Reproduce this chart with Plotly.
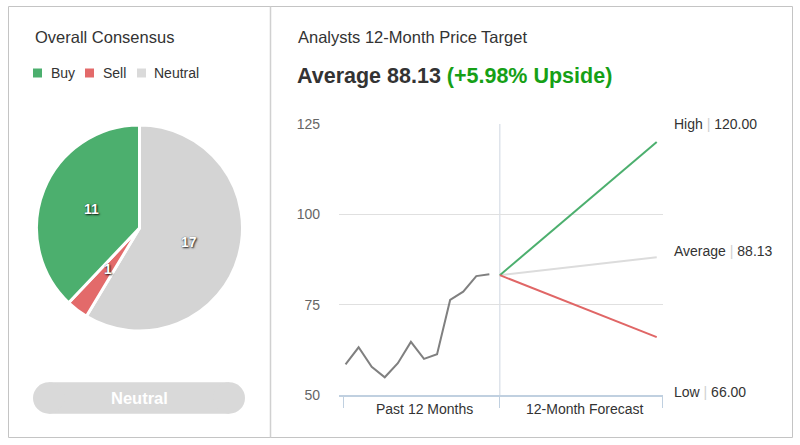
import math
import plotly.graph_objects as go

# ---------------- data ----------------
consensus_labels = ["Buy", "Sell", "Neutral"]
consensus_counts = [11, 1, 17]
consensus_colors = ["#4caf6e", "#e36a6a", "#d4d4d4"]
consensus_rating = "Neutral"

hist_months = [-11.8, -10.8, -9.8, -8.8, -7.8, -6.8, -5.8, -4.8, -3.8, -2.8, -1.8, -0.8]
hist_prices = [58.5, 63.2, 57.8, 54.9, 58.8, 64.7, 60.0, 61.3, 76.3, 78.6, 82.9, 83.4]

current_price = 83.16
forecast_months = [0, 12]
target_high = 120.00
target_avg = 88.13
target_low = 66.00

y_ticks = [50, 75, 100, 125]
x_categories = ["Past 12 Months", "12-Month Forecast"]

# ---------------- helpers ----------------
W, H = 800, 445
FONT = "Liberation Sans, Arial, Helvetica, sans-serif"
DARK = "#333333"


def px(x):
    return x / W


def py(y):
    return 1 - y / H


fig = go.Figure()

# ---------------- pie ----------------
# slices run clockwise from 12 o'clock: Neutral, Sell, Buy
pie_l, pie_r, pie_t, pie_b = 36, 243, 125, 331
fig.add_trace(go.Pie(
    labels=consensus_labels[::-1],
    values=consensus_counts[::-1],
    sort=False,
    direction="clockwise",
    rotation=0,
    marker=dict(colors=consensus_colors[::-1], line=dict(color="white", width=3)),
    textinfo="none",
    hoverinfo="label+value",
    showlegend=False,
    domain=dict(x=[px(pie_l), px(pie_r)], y=[py(pie_b), py(pie_t)]),
))

annotations = []
shapes = []

# pie data labels at half radius on each slice's mid angle (Buy starts at top, counterclockwise)
cx, cy = (pie_l + pie_r) / 2, (pie_t + pie_b) / 2
R = (pie_r - pie_l) / 2
total = sum(consensus_counts)
cum = 0
for lab, v in zip(consensus_labels, consensus_counts):
    mid = (cum + v / 2) / total * 2 * math.pi
    cum += v
    lx = cx - math.sin(mid) * R * 0.5
    ly = cy - math.cos(mid) * R * 0.5
    annotations.append(dict(
        x=px(lx), y=py(ly), xref="paper", yref="paper", showarrow=False,
        text=f"<b>{v}</b>", xanchor="center", yanchor="middle",
        font=dict(family=FONT, size=14, color="white",
                  shadow="1px 1px 2px rgba(0,0,0,0.85), 0px 0px 1px rgba(0,0,0,0.6)"),
    ))

# manual legend
leg_sq_x = [33, 85, 137]
leg_txt_x = [49, 101, 152]
for lab, col, sx, tx in zip(consensus_labels, consensus_colors, leg_sq_x, leg_txt_x):
    shapes.append(dict(type="rect", xref="paper", yref="paper",
                       x0=px(sx), x1=px(sx + 9), y0=py(77.5), y1=py(68.5),
                       fillcolor=col if col != "#d4d4d4" else "#dadada", line=dict(width=0)))
    annotations.append(dict(x=px(tx), y=py(73), xref="paper", yref="paper", showarrow=False,
                            text=lab, xanchor="left", yanchor="middle",
                            font=dict(family=FONT, size=14, color=DARK)))

# titles
annotations.append(dict(x=px(33), y=py(37), xref="paper", yref="paper", showarrow=False,
                        text="Overall Consensus", xanchor="left", yanchor="middle",
                        font=dict(family=FONT, size=16.5, color=DARK)))
annotations.append(dict(x=px(296), y=py(37), xref="paper", yref="paper", showarrow=False,
                        text="Analysts 12-Month Price Target", xanchor="left", yanchor="middle",
                        font=dict(family=FONT, size=16.5, color=DARK)))
upside = (target_avg / current_price - 1) * 100
annotations.append(dict(x=px(295), y=py(76), xref="paper", yref="paper", showarrow=False,
                        text=f"<b>Average {target_avg:.2f} <span style='color:#16a016'>(+{upside:.2f}% Upside)</span></b>",
                        xanchor="left", yanchor="middle",
                        font=dict(family=FONT, size=21.5, color=DARK)))

# neutral pill
pill_l, pill_r, pill_t, pill_b = 33, 245, 382.3, 413.7
rad = (pill_b - pill_t) / 2
pill_col = "#d9d9d9"
shapes.append(dict(type="rect", xref="paper", yref="paper",
                   x0=px(pill_l + rad), x1=px(pill_r - rad), y0=py(pill_b), y1=py(pill_t),
                   fillcolor=pill_col, line=dict(width=0)))
for ccx in (pill_l + rad, pill_r - rad):
    shapes.append(dict(type="circle", xref="paper", yref="paper",
                       x0=px(ccx - rad), x1=px(ccx + rad), y0=py(pill_b), y1=py(pill_t),
                       fillcolor=pill_col, line=dict(width=0)))
annotations.append(dict(x=px((pill_l + pill_r) / 2), y=py((pill_t + pill_b) / 2),
                        xref="paper", yref="paper", showarrow=False,
                        text=f"<b>{consensus_rating}</b>", xanchor="center", yanchor="middle",
                        font=dict(family=FONT, size=16.5, color="white")))

# ---------------- line chart ----------------
fig.add_trace(go.Scatter(x=hist_months, y=hist_prices, mode="lines",
                         line=dict(color="#808080", width=2), showlegend=False,
                         hoverinfo="y"))
for tgt, col in [(target_avg, "#dcdcdc"), (target_high, "#4caf6e"), (target_low, "#e06666")]:
    fig.add_trace(go.Scatter(x=forecast_months, y=[current_price, tgt], mode="lines",
                             line=dict(color=col, width=2), showlegend=False, hoverinfo="y"))

ax_l, ax_r, ax_t, ax_b = 339, 663, 124, 395
x_range = [-12.3, 12.48]
y_range = [50, 125]

fig.update_xaxes(domain=[px(ax_l), px(ax_r)], range=x_range, showgrid=False, zeroline=False,
                 showline=True, linecolor="#c0d0e0", linewidth=1.5, automargin=False,
                 ticks="outside", tickvals=[-11.95, 0, 12.47], ticklen=11, tickwidth=1,
                 tickcolor="#c0d0e0", showticklabels=False, fixedrange=True)
fig.update_yaxes(domain=[py(ax_b), py(ax_t)], range=y_range, tickvals=y_ticks,
                 showgrid=True, gridcolor="#e0e0e0", gridwidth=1, zeroline=False,
                 showline=False, ticks="", ticklabelstandoff=18, automargin=False,
                 tickfont=dict(family=FONT, size=14, color="#666666"), fixedrange=True)

# "now" divider
shapes.append(dict(type="line", xref="x", yref="y domain", x0=0, x1=0, y0=0, y1=1,
                   line=dict(color="#d6dde6", width=1.2), layer="below"))

# category labels
cat_centers = [424, 585]
for lab, cxx in zip(x_categories, cat_centers):
    annotations.append(dict(x=px(cxx), y=py(409), xref="paper", yref="paper", showarrow=False,
                            text=lab, xanchor="center", yanchor="middle",
                            font=dict(family=FONT, size=14, color=DARK)))

# target labels on the right
sep = "<span style='color:#d0d0d0'>|</span>"
for name, val, yv, ys in [("High", target_high, y_range[1], 0),
                          ("Average", target_avg, target_avg, 6),
                          ("Low", target_low, y_range[0], 3)]:
    annotations.append(dict(x=px(672), y=yv, xref="paper", yref="y", yshift=ys, showarrow=False,
                            text=f"{name} {sep} {val:.2f}", xanchor="left", yanchor="middle",
                            font=dict(family=FONT, size=14, color=DARK)))

# frame
shapes.append(dict(type="rect", xref="paper", yref="paper", x0=px(8.5), x1=px(792.5),
                   y0=py(437.5), y1=py(6.5), line=dict(color="#c4c4c4", width=1)))
shapes.append(dict(type="line", xref="paper", yref="paper", x0=px(270.5), x1=px(270.5),
                   y0=py(437.5), y1=py(6.5), line=dict(color="#d0d0d0", width=1.5)))

fig.update_layout(
    width=W, height=H, margin=dict(l=0, r=0, t=0, b=0, pad=0, autoexpand=False),
    paper_bgcolor="white", plot_bgcolor="white",
    annotations=annotations, shapes=shapes, showlegend=False,
    font=dict(family=FONT, color=DARK),
)

fig.write_html("out.html", config={"displayModeBar": False},
               post_script="document.body.style.margin='0';")
